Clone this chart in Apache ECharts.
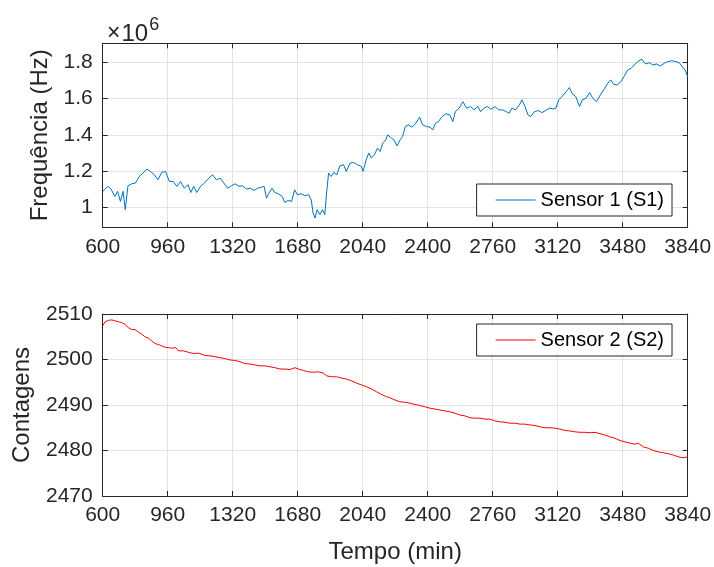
<!DOCTYPE html>
<html>
<head>
<meta charset="utf-8">
<script src="https://cdn.jsdelivr.net/npm/echarts@6/dist/echarts.min.js"></script>
<style>
  html, body { margin: 0; background: #fff; }
  #chart { width: 714px; height: 567px; }
</style>
</head>
<body>
<div id="chart"></div>
<script>
// tick labels
var timeTicks = [600, 960, 1320, 1680, 2040, 2400, 2760, 3120, 3480, 3840];
var freqTicks = [1, 1.2, 1.4, 1.6, 1.8];           // x10^6 Hz
var countTicks = [2470, 2480, 2490, 2500, 2510];

// Sensor 1 (S1) - frequencia em unidades de 10^6 Hz
var s1Time = [600, 629, 646, 667, 683, 698, 713, 725, 740, 761, 781, 802, 823, 844, 865, 886, 906, 927, 948, 969,
  990, 1011, 1031, 1052, 1073, 1088, 1104, 1121, 1142, 1163, 1188, 1209, 1230, 1250, 1271, 1292, 1313, 1334, 1355, 1375,
  1396, 1417, 1438, 1459, 1480, 1494, 1507, 1521, 1538, 1553, 1573, 1594, 1609, 1626, 1646, 1663, 1678, 1699, 1719, 1740,
  1755, 1765, 1776, 1788, 1803, 1817, 1830, 1840, 1851, 1865, 1880, 1897, 1913, 1934, 1949, 1970, 1990, 2011, 2032, 2042,
  2059, 2074, 2088, 2105, 2122, 2136, 2151, 2168, 2178, 2199, 2213, 2230, 2247, 2261, 2276, 2293, 2313, 2334, 2355, 2372,
  2393, 2414, 2428, 2443, 2459, 2480, 2501, 2522, 2539, 2553, 2574, 2595, 2616, 2637, 2657, 2678, 2693, 2710, 2730, 2751,
  2772, 2793, 2814, 2835, 2851, 2866, 2887, 2908, 2922, 2939, 2955, 2970, 2991, 3012, 3033, 3053, 3074, 3095, 3110, 3126,
  3147, 3168, 3185, 3199, 3220, 3241, 3256, 3277, 3297, 3314, 3335, 3356, 3377, 3397, 3414, 3429, 3450, 3470, 3487, 3508,
  3527, 3543, 3564, 3585, 3606, 3627, 3648, 3668, 3689, 3710, 3731, 3752, 3773, 3793, 3810, 3825, 3840];
var s1Freq = [1.088, 1.116, 1.101, 1.060, 1.088, 1.033, 1.088, 0.987, 1.119, 1.130, 1.134, 1.170, 1.189, 1.211, 1.198, 1.180, 1.152, 1.193, 1.198, 1.143,
  1.143, 1.116, 1.143, 1.106, 1.125, 1.082, 1.116, 1.082, 1.116, 1.134, 1.161, 1.180, 1.152, 1.161, 1.134, 1.106, 1.119, 1.130, 1.116, 1.119,
  1.101, 1.106, 1.093, 1.106, 1.112, 1.116, 1.051, 1.079, 1.106, 1.082, 1.075, 1.060, 1.027, 1.038, 1.033, 1.097, 1.070, 1.075, 1.064, 1.070,
  1.042, 0.969, 0.941, 0.987, 0.960, 0.987, 0.960, 1.079, 1.189, 1.170, 1.193, 1.180, 1.229, 1.235, 1.198, 1.244, 1.248, 1.235, 1.226, 1.198,
  1.262, 1.299, 1.272, 1.290, 1.327, 1.308, 1.354, 1.372, 1.400, 1.382, 1.372, 1.339, 1.372, 1.391, 1.446, 1.455, 1.442, 1.464, 1.497, 1.455,
  1.446, 1.442, 1.427, 1.464, 1.473, 1.501, 1.516, 1.510, 1.473, 1.528, 1.547, 1.583, 1.547, 1.556, 1.538, 1.556, 1.528, 1.547, 1.556, 1.541,
  1.556, 1.538, 1.538, 1.528, 1.519, 1.547, 1.538, 1.565, 1.593, 1.556, 1.510, 1.501, 1.528, 1.534, 1.523, 1.534, 1.547, 1.543, 1.547, 1.593,
  1.615, 1.639, 1.661, 1.629, 1.611, 1.556, 1.593, 1.602, 1.633, 1.602, 1.583, 1.620, 1.651, 1.684, 1.703, 1.679, 1.675, 1.694, 1.721, 1.758,
  1.767, 1.785, 1.804, 1.818, 1.791, 1.798, 1.785, 1.791, 1.780, 1.795, 1.804, 1.809, 1.804, 1.798, 1.776, 1.758, 1.721];

// Sensor 2 (S2) - contagens
var s2Time = [600, 613, 631, 650, 668, 687, 705, 724, 742, 761, 779, 798, 816, 834, 853, 871, 890, 908, 927, 945,
  964, 982, 1006, 1019, 1047, 1074, 1102, 1130, 1139, 1167, 1194, 1222, 1250, 1277, 1305, 1333, 1361, 1388, 1416, 1444,
  1471, 1499, 1527, 1554, 1582, 1610, 1637, 1665, 1684, 1711, 1739, 1767, 1794, 1822, 1841, 1868, 1896, 1924, 1951, 1979,
  2007, 2034, 2062, 2090, 2117, 2145, 2173, 2191, 2219, 2247, 2274, 2302, 2330, 2357, 2385, 2413, 2441, 2468, 2496, 2524,
  2551, 2579, 2607, 2634, 2662, 2690, 2718, 2745, 2773, 2801, 2828, 2856, 2884, 2911, 2939, 2967, 2994, 3022, 3050, 3077,
  3105, 3133, 3161, 3188, 3216, 3244, 3271, 3299, 3327, 3354, 3382, 3410, 3437, 3465, 3493, 3521, 3548, 3567, 3594, 3622,
  3650, 3677, 3705, 3733, 3761, 3788, 3816, 3840];
var s2Count = [2507.4, 2508.3, 2508.6, 2508.7, 2508.5, 2508.3, 2508.1, 2507.7, 2507.0, 2506.6, 2506.6, 2506.0, 2505.6, 2505.0, 2504.7, 2504.1, 2503.5, 2503.3, 2503.0, 2502.7,
  2502.6, 2502.5, 2502.6, 2501.9, 2501.9, 2501.6, 2501.3, 2501.4, 2501.0, 2500.9, 2500.8, 2500.6, 2500.4, 2500.2, 2499.9, 2499.8, 2499.5, 2499.1, 2499.0, 2498.8,
  2498.6, 2498.6, 2498.4, 2498.2, 2497.9, 2497.9, 2497.8, 2498.2, 2497.9, 2497.6, 2497.3, 2497.2, 2497.3, 2497.0, 2496.4, 2496.2, 2496.2, 2495.9, 2495.7, 2495.3,
  2494.8, 2494.4, 2494.0, 2493.5, 2492.9, 2492.3, 2491.8, 2491.6, 2491.1, 2490.7, 2490.6, 2490.4, 2490.1, 2489.9, 2489.6, 2489.3, 2489.1, 2488.9, 2488.7, 2488.5,
  2488.2, 2487.8, 2487.6, 2487.2, 2487.1, 2487.1, 2486.9, 2486.9, 2486.5, 2486.3, 2486.2, 2486.0, 2486.0, 2485.8, 2485.8, 2485.6, 2485.5, 2485.2, 2485.0, 2485.0,
  2484.9, 2484.7, 2484.4, 2484.3, 2484.1, 2484.0, 2484.0, 2483.9, 2484.0, 2483.7, 2483.4, 2483.0, 2482.7, 2482.2, 2481.9, 2481.6, 2481.4, 2481.6, 2480.8, 2480.5,
  2480.0, 2479.7, 2479.5, 2479.3, 2479.0, 2478.6, 2478.4, 2478.6];

var FONT = "'Liberation Sans', Arial, sans-serif";
var AX = '#262626';

function pairs(xs, ys) {
  return xs.map(function (x, i) { return [x, ys[i]]; });
}

function plain(v) { return String(v); }

function xAxisOf(grid, pos, withLabels, name) {
  return {
    type: 'value', gridIndex: grid, position: pos,
    min: 600, max: 3840,
    name: name || '', nameLocation: 'middle', nameGap: 44,
    nameTextStyle: { fontFamily: FONT, fontSize: 24, color: AX },
    axisLine: { show: true, onZero: false, lineStyle: { color: AX, width: 1 } },
    axisTick: { show: true, inside: true, length: 5, customValues: timeTicks, lineStyle: { color: AX } },
    axisLabel: { show: withLabels, customValues: timeTicks, margin: 9, formatter: plain,
      fontFamily: FONT, fontSize: 21, color: AX },
    splitLine: { show: withLabels, lineStyle: { color: '#e3e3e3', width: 1 } }
  };
}

function yAxisOf(grid, pos, withLabels, min, max, ticks, name, gap) {
  return {
    type: 'value', gridIndex: grid, position: pos,
    min: min, max: max,
    name: name || '', nameLocation: 'middle', nameGap: gap || 0,
    nameTextStyle: { fontFamily: FONT, fontSize: 24, color: AX },
    axisLine: { show: true, onZero: false, lineStyle: { color: AX, width: 1 } },
    axisTick: { show: true, inside: true, length: 5, customValues: ticks, lineStyle: { color: AX } },
    axisLabel: { show: withLabels, customValues: ticks, margin: 10, formatter: plain,
      fontFamily: FONT, fontSize: 21, color: AX },
    splitLine: { show: withLabels, lineStyle: { color: '#e3e3e3', width: 1 } }
  };
}

function legendOf(name, top) {
  return {
    data: [name], right: 42, top: top,
    orient: 'vertical',
    icon: 'rect', itemWidth: 40, itemHeight: 1.2,
    padding: [6, 8, 6, 19],
    backgroundColor: '#fff', borderColor: AX, borderWidth: 1, borderRadius: 0,
    textStyle: { fontFamily: FONT, fontSize: 20, color: '#000' },
    selectedMode: false
  };
}

var chart = echarts.init(document.getElementById('chart'), null, { renderer: 'canvas' });

chart.setOption({
  animation: false,
  backgroundColor: '#fff',
  title: {
    left: 102, top: 8,
    text: '{a|\u00d7}{c|10}{b|6}',
    textStyle: {
      fontWeight: 'normal',
      rich: {
        a: { fontFamily: FONT, fontSize: 23, fontWeight: 'normal', color: AX, padding: [9, 1, 0, 0] },
        c: { fontFamily: FONT, fontSize: 24, fontWeight: 'normal', color: AX, padding: [9, 0, 0, 0] },
        b: { fontFamily: FONT, fontSize: 18, fontWeight: 'normal', color: AX, padding: [0, 0, 9, 1] }
      }
    }
  },
  grid: [
    { left: 102.7, right: 26.3, top: 43.3, height: 184, outerBoundsMode: 'none' },
    { left: 102.7, right: 26.3, top: 314, height: 182, outerBoundsMode: 'none' }
  ],
  legend: [legendOf('Sensor 1 (S1)', 184), legendOf('Sensor 2 (S2)', 324)],
  xAxis: [
    xAxisOf(0, 'bottom', true),
    xAxisOf(0, 'top', false),
    xAxisOf(1, 'bottom', true, 'Tempo (min)'),
    xAxisOf(1, 'top', false)
  ],
  yAxis: [
    yAxisOf(0, 'left', true, 0.89, 1.905, freqTicks, 'Frequência (Hz)', 50),
    yAxisOf(0, 'right', false, 0.89, 1.905, freqTicks),
    yAxisOf(1, 'left', true, 2470, 2510, countTicks, 'Contagens', 68),
    yAxisOf(1, 'right', false, 2470, 2510, countTicks)
  ],
  series: [
    {
      name: 'Sensor 1 (S1)', type: 'line', xAxisIndex: 0, yAxisIndex: 0,
      data: pairs(s1Time, s1Freq), showSymbol: false, symbol: 'none',
      lineStyle: { color: '#0072BD', width: 1 }, itemStyle: { color: '#0072BD' }
    },
    {
      name: 'Sensor 2 (S2)', type: 'line', xAxisIndex: 2, yAxisIndex: 2,
      data: pairs(s2Time, s2Count), showSymbol: false, symbol: 'none',
      lineStyle: { color: '#FF0000', width: 1 }, itemStyle: { color: '#FF0000' }
    }
  ]
});
</script>
</body>
</html>
